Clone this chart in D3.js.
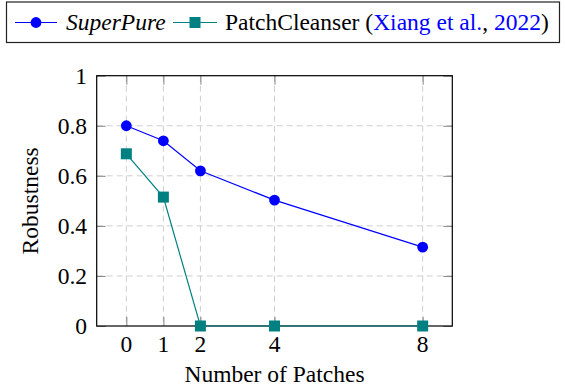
<!DOCTYPE html>
<html>
<head>
<meta charset="utf-8">
<script src="https://cdn.jsdelivr.net/npm/d3@7"></script>
<style>
	body { margin: 0; background: #fff; }
</style>
</head>
<body>
<div id="chart"></div>
<script>
// ---------- DATA ----------
const patches = [0, 1, 2, 4, 8];
const superPure = [0.8, 0.74, 0.62, 0.503, 0.315];
const patchCleanser = [0.688, 0.515, 0, 0, 0];
const yTicks = [0, 0.2, 0.4, 0.6, 0.8, 1];

const size = { w: 565, h: 387 };
const plot = { left: 96.7, right: 452.3, top: 75.7, bottom: 326 };
const serif = "'Liberation Serif', 'Times New Roman', serif";
const fs = 23.5;
const colorDef = {
	blue: "#0000ff",
	teal: "#008080",
	grid: "#cfcfcf",
	tick: "#666",
};

const svg = d3
	.select("#chart")
	.append("svg")
	.attr("width", size.w)
	.attr("height", size.h)
	.attr("font-family", serif);

const x = d3.scaleLinear().domain([-0.8, 8.8]).range([plot.left, plot.right]);
const y = d3.scaleLinear().domain([0, 1]).range([plot.bottom, plot.top]);

// grid
const grid = svg.append("g").attr("stroke", colorDef.grid).attr("stroke-dasharray", "6,4");
grid.selectAll("line.v")
	.data(patches)
	.enter()
	.append("line")
	.attr("x1", (d) => x(d))
	.attr("x2", (d) => x(d))
	.attr("y1", plot.top)
	.attr("y2", plot.bottom);
grid.selectAll("line.h")
	.data(yTicks.slice(1, -1))
	.enter()
	.append("line")
	.attr("x1", plot.left)
	.attr("x2", plot.right)
	.attr("y1", (d) => y(d))
	.attr("y2", (d) => y(d));

// axes (inner ticks, all four sides)
const tickLen = 9;
const fmt = (d) => (d === 0 || d === 1 ? String(d) : d3.format(".1f")(d));
const axes = [
	{ gen: d3.axisBottom(x).tickValues(patches).tickFormat(""), t: `translate(0,${plot.bottom})` },
	{ gen: d3.axisTop(x).tickValues(patches).tickFormat(""), t: `translate(0,${plot.top})` },
	{ gen: d3.axisLeft(y).tickValues(yTicks).tickFormat(""), t: `translate(${plot.left},0)` },
	{ gen: d3.axisRight(y).tickValues(yTicks).tickFormat(""), t: `translate(${plot.right},0)` },
];
axes.forEach((a) => {
	const g = svg.append("g").attr("transform", a.t).call(a.gen.tickSizeInner(-tickLen).tickSizeOuter(0));
	g.select(".domain").remove();
	g.selectAll(".tick line").attr("stroke", colorDef.tick).attr("stroke-width", 0.8);
});

// tick labels
svg.append("g")
	.selectAll("text")
	.data(patches)
	.enter()
	.append("text")
	.attr("x", (d) => x(d))
	.attr("y", 352)
	.attr("text-anchor", "middle")
	.attr("font-family", serif)
	.attr("font-size", fs)
	.text((d) => d);
svg.append("g")
	.selectAll("text")
	.data(yTicks)
	.enter()
	.append("text")
	.attr("x", 87)
	.attr("y", (d) => y(d) + 8)
	.attr("text-anchor", "end")
	.attr("font-family", serif)
	.attr("font-size", fs)
	.text(fmt);

// frame
svg.append("rect")
	.attr("x", plot.left)
	.attr("y", plot.top)
	.attr("width", plot.right - plot.left)
	.attr("height", plot.bottom - plot.top)
	.attr("fill", "none")
	.attr("stroke", "#000")
	.attr("stroke-width", 1.2);

// axis titles
svg.append("text")
	.attr("x", (plot.left + plot.right) / 2)
	.attr("y", 381.5)
	.attr("text-anchor", "middle")
	.attr("font-family", serif)
	.attr("font-size", fs)
	.text("Number of Patches");
svg.append("text")
	.attr("transform", `translate(38,${(plot.top + plot.bottom) / 2}) rotate(-90)`)
	.attr("text-anchor", "middle")
	.attr("font-family", serif)
	.attr("font-size", fs)
	.text("Robustness");

// series
const line = d3.line().x((d) => x(d[0])).y((d) => y(d[1]));
const sp = patches.map((p, i) => [p, superPure[i]]);
const pc = patches.map((p, i) => [p, patchCleanser[i]]);

svg.append("path").datum(pc).attr("d", line).attr("fill", "none").attr("stroke", colorDef.teal).attr("stroke-width", 1.2);
svg.append("g")
	.selectAll("rect")
	.data(pc)
	.enter()
	.append("rect")
	.attr("x", (d) => x(d[0]) - 5.5)
	.attr("y", (d) => y(d[1]) - 5.5)
	.attr("width", 11)
	.attr("height", 11)
	.attr("fill", colorDef.teal);

svg.append("path").datum(sp).attr("d", line).attr("fill", "none").attr("stroke", colorDef.blue).attr("stroke-width", 1.2);
svg.append("g")
	.selectAll("circle")
	.data(sp)
	.enter()
	.append("circle")
	.attr("cx", (d) => x(d[0]))
	.attr("cy", (d) => y(d[1]))
	.attr("r", 5.4)
	.attr("fill", colorDef.blue);

// legend
const legend = svg.append("g");
legend.append("rect")
	.attr("x", 6.5)
	.attr("y", 2)
	.attr("width", 553)
	.attr("height", 40.5)
	.attr("fill", "#fff")
	.attr("stroke", "#222")
	.attr("stroke-width", 1.2);
const ly = 22.5;
legend.append("line").attr("x1", 15).attr("x2", 57).attr("y1", ly).attr("y2", ly).attr("stroke", colorDef.blue).attr("stroke-width", 1.2);
legend.append("circle").attr("cx", 36).attr("cy", ly).attr("r", 5.4).attr("fill", colorDef.blue);
legend.append("text").attr("x", 66).attr("y", 30).attr("font-family", serif).attr("font-size", fs).attr("font-style", "italic").text("SuperPure");
legend.append("line").attr("x1", 173).attr("x2", 217).attr("y1", ly).attr("y2", ly).attr("stroke", colorDef.teal).attr("stroke-width", 1.2);
legend.append("rect").attr("x", 195 - 5.5).attr("y", ly - 5.5).attr("width", 11).attr("height", 11).attr("fill", colorDef.teal);
const lt = legend.append("text").attr("x", 225).attr("y", 30).attr("font-family", serif).attr("font-size", fs);
lt.append("tspan").text("PatchCleanser (");
lt.append("tspan").attr("fill", colorDef.blue).text("Xiang et al.");
lt.append("tspan").text(", ");
lt.append("tspan").attr("fill", colorDef.blue).text("2022");
lt.append("tspan").text(")");
</script>
</body>
</html>
